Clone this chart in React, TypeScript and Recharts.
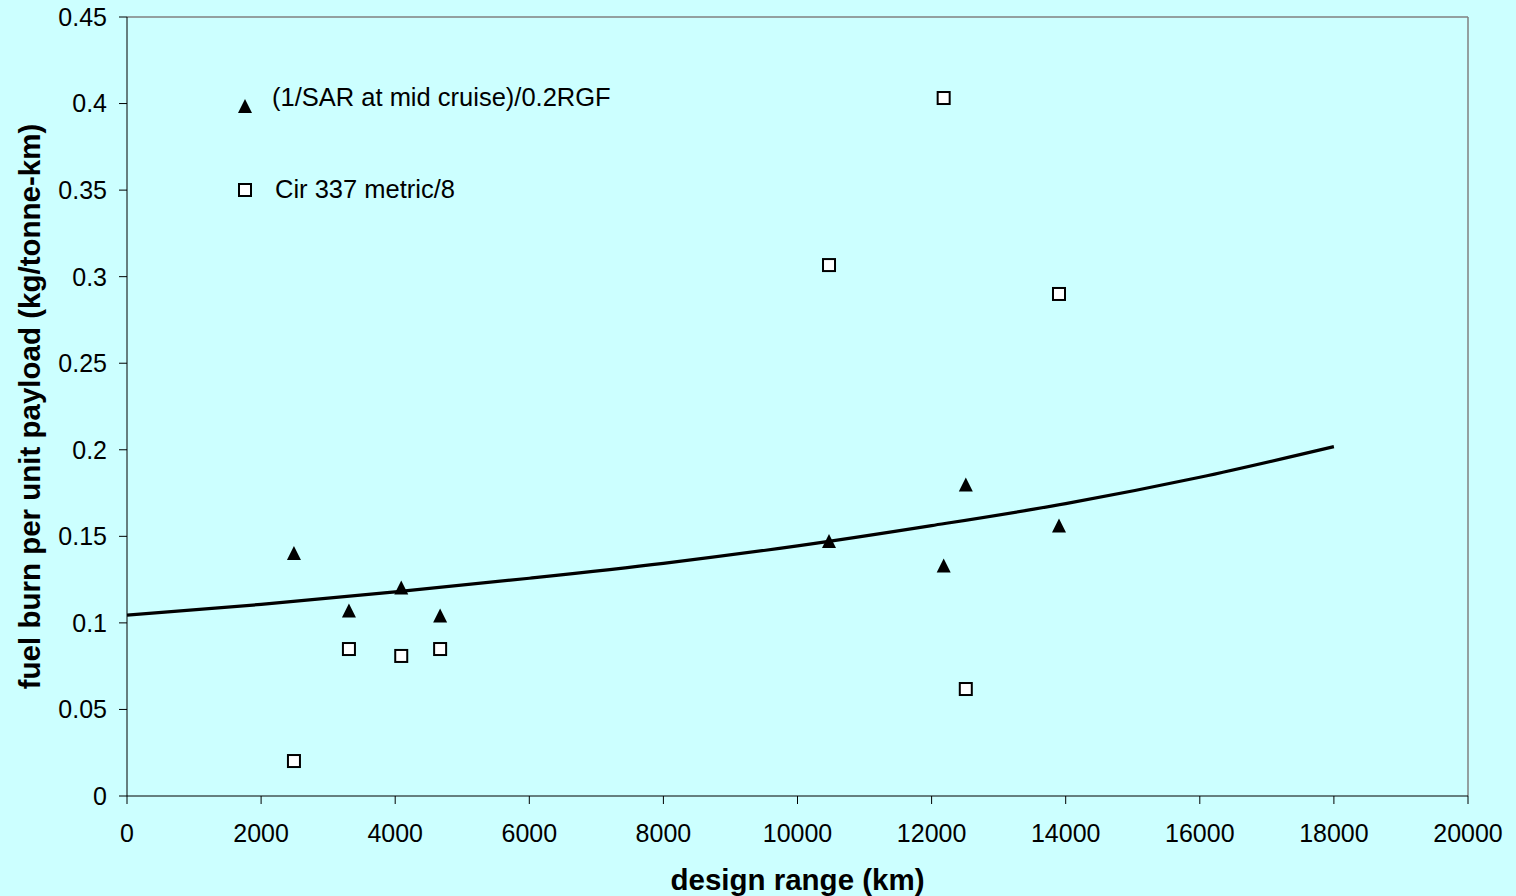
import React from 'react';
import { ComposedChart, Scatter, Line, XAxis, YAxis, ReferenceLine, Legend } from 'recharts';

const rangeKm = [2490, 3310, 4090, 4670, 10470, 12180, 12510, 13900];
const sarValues = [0.1404, 0.1072, 0.1204, 0.1043, 0.1473, 0.1332, 0.1799, 0.1563];
const cirValues = [0.0202, 0.0849, 0.0809, 0.0849, 0.3067, 0.4032, 0.0618, 0.29];

const trendX = [0, 2000, 4000, 6000, 8000, 10000, 12000, 14000, 16000, 18000];
const trendY = [0.1045, 0.1107, 0.1179, 0.1258, 0.1344, 0.1445, 0.1562, 0.1689, 0.1841, 0.2018];

const xTicks = [0, 2000, 4000, 6000, 8000, 10000, 12000, 14000, 16000, 18000, 20000];
const yTicks = [0, 0.05, 0.1, 0.15, 0.2, 0.25, 0.3, 0.35, 0.4, 0.45];

const sarName = '(1/SAR at mid cruise)/0.2RGF';
const cirName = 'Cir 337 metric/8';

const sarData = rangeKm.map((x, i) => ({ x, y: sarValues[i] }));
const cirData = rangeKm.map((x, i) => ({ x, y: cirValues[i] }));
const trendData = trendX.map((x, i) => ({ x, y: trendY[i] }));

const FONT = '"Liberation Sans", Arial, sans-serif';
const BG = '#CCFFFF';

const Triangle = (props: any) => {
  const { cx, cy } = props;
  if (cx == null || cy == null) return null;
  return <polygon points={`${cx - 7},${cy + 7} ${cx + 7},${cy + 7} ${cx},${cy - 7}`} fill="#000" />;
};

const Square = (props: any) => {
  const { cx, cy } = props;
  if (cx == null || cy == null) return null;
  return <rect x={cx - 6} y={cy - 6} width={12} height={12} fill="#fff" stroke="#000" strokeWidth={2} />;
};

const LegendContent = () => (
  <svg width={420} height={130} style={{ display: 'block' }}>
    <polygon points="18,33 32,33 25,19" fill="#000" />
    <text x={52} y={26} fontFamily={FONT} fontSize={25.5} fill="#000">{sarName}</text>
    <rect x={19} y={104} width={12} height={12} fill="#fff" stroke="#000" strokeWidth={2} />
    <text x={55} y={118} fontFamily={FONT} fontSize={25.5} fill="#000">{cirName}</text>
  </svg>
);

const YLabel = (props: any) => {
  const vb = props.viewBox || {};
  const x = (vb.x || 0) + 40;
  const y = (vb.y || 0) + (vb.height || 0) / 2;
  return (
    <text x={x} y={y} transform={`rotate(-90, ${x}, ${y})`} textAnchor="middle" fontFamily={FONT}
      fontWeight="bold" fontSize={29.5} fill="#000">
      fuel burn per unit payload (kg/tonne-km)
    </text>
  );
};

const XLabel = (props: any) => {
  const vb = props.viewBox || {};
  const x = (vb.x || 0) + (vb.width || 0) / 2;
  const y = (vb.y || 0) + 94;
  return (
    <text x={x} y={y} textAnchor="middle" fontFamily={FONT} fontWeight="bold" fontSize={29.5} fill="#000">
      design range (km)
    </text>
  );
};

export default function App() {
  return (
    <div style={{ position: 'absolute', left: 0, top: 0, width: 1516, height: 896, background: BG }}>
      <ComposedChart width={1516} height={896} margin={{ top: 17, right: 48, bottom: 0, left: 0 }}>
        <XAxis type="number" dataKey="x" domain={[0, 20000]} ticks={xTicks} interval={0} height={100}
          allowDataOverflow tick={{ fill: '#000', fontSize: 25, fontFamily: FONT }}
          tickLine={{ stroke: '#000' }} axisLine={{ stroke: '#000' }} tickSize={8} tickMargin={20}
          label={<XLabel />} />
        <YAxis type="number" dataKey="y" domain={[0, 0.45]} ticks={yTicks} interval={0} width={127}
          allowDataOverflow tick={{ fill: '#000', fontSize: 25, fontFamily: FONT }}
          tickLine={{ stroke: '#000' }} axisLine={{ stroke: '#000' }} tickSize={8} tickMargin={12}
          label={<YLabel />} />
        <ReferenceLine y={0.45} stroke="#808080" strokeWidth={1.5} />
        <ReferenceLine x={20000} stroke="#808080" strokeWidth={1.5} />
        <Line data={trendData} dataKey="y" type="monotone" stroke="#000" strokeWidth={3.2} dot={false}
          activeDot={false} isAnimationActive={false} legendType="none" />
        <Scatter name={sarName} data={sarData} dataKey="y" shape={<Triangle />} isAnimationActive={false} />
        <Scatter name={cirName} data={cirData} dataKey="y" shape={<Square />} isAnimationActive={false} />
        <Legend layout="vertical" align="center" verticalAlign="middle"
          wrapperStyle={{ left: 220, top: 80, width: 420, height: 130 }} content={<LegendContent />} />
      </ComposedChart>
    </div>
  );
}
